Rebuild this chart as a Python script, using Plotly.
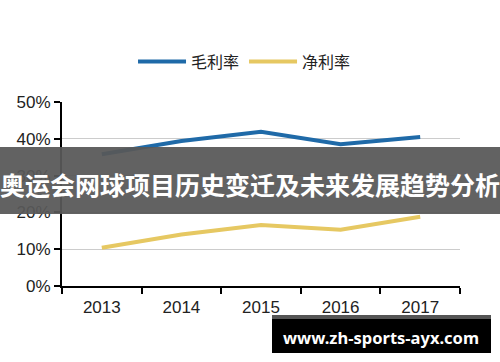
import plotly.graph_objects as go

years = ["2013", "2014", "2015", "2016", "2017"]
gross_margin = [35.8, 39.4, 41.9, 38.5, 40.5]
net_margin = [10.4, 14.0, 16.6, 15.3, 18.8]
y_ticks = [0, 10, 20, 30, 40, 50]
y_tick_labels = ["0%", "10%", "20%", "30%", "40%", "50%"]

fig = go.Figure()
fig.add_trace(go.Scatter(x=years, y=gross_margin, mode="lines", name="毛利率",
                         line=dict(color="#1f6aa8", width=4)))
fig.add_trace(go.Scatter(x=years, y=net_margin, mode="lines", name="净利率",
                         line=dict(color="#e6c862", width=4)))

fig.update_layout(
    width=500, height=362,
    margin=dict(l=62, r=40, t=102, b=76),
    paper_bgcolor="white", plot_bgcolor="white",
    font=dict(family="Liberation Sans, Arial", size=17, color="#222"),
    showlegend=True,
    legend=dict(orientation="h", x=0.4586, xanchor="center", y=1.22, yanchor="middle",
                font=dict(family="Noto Sans CJK SC", size=16, color="#222"),
                itemwidth=48),
    xaxis=dict(type="category", range=[-0.5, 4.5], showline=True, linecolor="black",
               linewidth=2, ticks="outside", tickson="boundaries", ticklen=6,
               tickwidth=2, tickcolor="black", showgrid=False, fixedrange=True,
               ticklabelstandoff=5),
    yaxis=dict(range=[0, 50], tickvals=y_ticks, ticktext=y_tick_labels, showline=True,
               linecolor="black", linewidth=2, ticks="outside", ticklen=6, tickwidth=2,
               tickcolor="black", showgrid=True, gridcolor="#cccccc", gridwidth=1,
               zeroline=False, fixedrange=True),
)

# overlay banner
fig.add_shape(type="rect", xref="paper", yref="paper", x0=-62 / 398, x1=440 / 398,
              y0=(286 - 214) / 184, y1=(286 - 147) / 184,
              fillcolor="rgba(88,88,88,0.94)", line=dict(width=0), layer="above")
fig.add_annotation(text="奥运会网球项目历史变迁及未来发展趋势分析", xref="paper", yref="paper",
                   x=(250 - 62) / 398, y=(286 - 184) / 184, showarrow=False,
                   xanchor="center", yanchor="middle",
                   font=dict(family="Noto Sans CJK SC", size=25, color="white", weight="bold"))

# watermark box
fig.add_shape(type="rect", xref="paper", yref="paper",
              x0=(272 - 62) / 398, x1=(491 - 62) / 398,
              y0=(286 - 353) / 184, y1=(286 - 315) / 184,
              fillcolor="black", line=dict(width=0), layer="above")
fig.add_shape(type="rect", xref="paper", yref="paper",
              x0=(272 - 62) / 398, x1=(491 - 62) / 398,
              y0=(286 - 319) / 184, y1=(286 - 315) / 184,
              fillcolor="#555555", line=dict(width=0), layer="above")
fig.add_annotation(text="www.zh-sports-ayx.com", xref="paper", yref="paper",
                   x=(381 - 62) / 398, y=(286 - 337) / 184, showarrow=False,
                   xanchor="center", yanchor="middle",
                   font=dict(family="Noto Sans", size=16.5, color="white", weight="bold"))

fig.write_html("out.html", config={"displayModeBar": False},
               post_script="document.body.style.margin='0';document.body.style.overflow='hidden';")
